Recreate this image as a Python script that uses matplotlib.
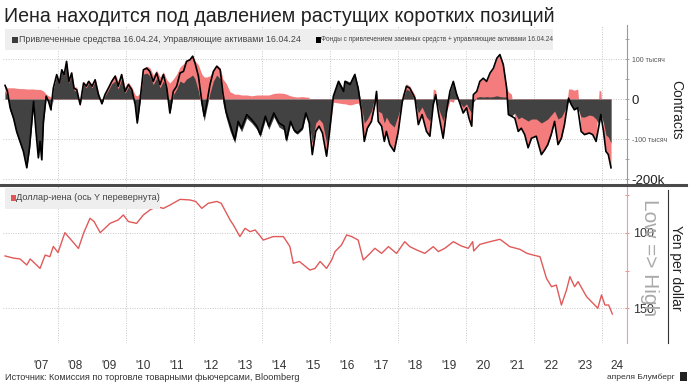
import matplotlib
matplotlib.use("Agg")
import matplotlib.pyplot as plt
from matplotlib.lines import Line2D
from matplotlib.patches import Rectangle

plt.rcParams['font.family'] = ['Liberation Sans', 'DejaVu Sans']

# CFTC positioning, thousands of contracts (decimal years)
cot_dates = [
    2006.44, 2006.51, 2006.59, 2006.69, 2006.78, 2006.88, 2006.98, 2007.08, 2007.16, 2007.23,
    2007.28, 2007.35, 2007.42, 2007.47, 2007.52, 2007.57, 2007.65, 2007.72, 2007.79, 2007.86,
    2007.96, 2008.04, 2008.11, 2008.18, 2008.25, 2008.32, 2008.40, 2008.47, 2008.55, 2008.65,
    2008.75, 2008.83, 2008.90, 2009.00, 2009.09, 2009.19, 2009.29, 2009.38, 2009.48, 2009.58,
    2009.68, 2009.77, 2009.87, 2009.97, 2010.07, 2010.17, 2010.27, 2010.33, 2010.41, 2010.51,
    2010.61, 2010.70, 2010.80, 2010.90, 2011.00, 2011.10, 2011.20, 2011.29, 2011.39, 2011.49,
    2011.59, 2011.69, 2011.78, 2011.88, 2011.96, 2012.03, 2012.13, 2012.23, 2012.30, 2012.37,
    2012.47, 2012.57, 2012.67, 2012.77, 2012.85, 2012.94, 2013.06, 2013.20, 2013.30, 2013.40,
    2013.55, 2013.70, 2013.85, 2013.95, 2014.10, 2014.20, 2014.35, 2014.50, 2014.65, 2014.72,
    2014.84, 2014.94, 2015.04, 2015.19, 2015.29, 2015.39, 2015.48, 2015.58, 2015.68, 2015.78,
    2015.90, 2016.00, 2016.10, 2016.25, 2016.40, 2016.44, 2016.59, 2016.73, 2016.83, 2016.93,
    2017.01, 2017.10, 2017.22, 2017.32, 2017.37, 2017.42, 2017.52, 2017.60, 2017.66, 2017.76,
    2017.89, 2018.01, 2018.13, 2018.25, 2018.35, 2018.50, 2018.60, 2018.71, 2018.84, 2018.94,
    2019.04, 2019.11, 2019.20, 2019.33, 2019.43, 2019.53, 2019.63, 2019.73, 2019.82, 2019.92,
    2020.02, 2020.09, 2020.17, 2020.22, 2020.32, 2020.41, 2020.51, 2020.61, 2020.71, 2020.81,
    2020.91, 2021.00, 2021.10, 2021.20, 2021.25, 2021.34, 2021.44, 2021.54, 2021.63, 2021.73,
    2021.83, 2021.93, 2022.07, 2022.22, 2022.32, 2022.41, 2022.51, 2022.61, 2022.71, 2022.81,
    2022.90, 2023.02, 2023.10, 2023.19, 2023.29, 2023.39, 2023.49, 2023.63, 2023.73, 2023.83,
    2023.92, 2023.97, 2024.05, 2024.12, 2024.19, 2024.27,
]
# black line: leveraged funds + asset managers
net_total = [
    34, 19, -22, -48, -81, -106, -131, -172, -122, -56,
    -6, -81, -147, -106, -152, -56, 7, -6, -27, 27,
    61, 40, 73, 61, 94, 44, 65, 27, 23, -14,
    40, 32, 44, 32, 48, 11, -12, 11, 27, 44,
    57, 32, 61, 19, 36, 23, -14, -60, -6, 73,
    77, 69, 44, 65, 36, 61, 27, -35, 19, 32,
    65, 69, 94, 98, 107, 90, 57, -6, -43, -14,
    36, 69, 82, 73, 15, -31, -64, -102, -56, -73,
    -39, -52, -68, -89, -43, -68, -35, -60, -68, -102,
    -56, -77, -85, -73, -35, -60, -139, -81, -68, -85,
    -143, -73, 7, 44, 19, 44, 36, 61, 27, -31,
    -106, -73, -56, -14, 19, -56, -68, -106, -81, -114,
    -131, -81, -6, 32, 27, 2, -64, -39, -81, -93,
    -14, 11, -39, -98, -31, 19, 44, 11, -10, -35,
    -22, -48, -68, 11, 19, 44, 52, 44, 65, 77,
    102, 111, 86, 27, -39, -43, -48, -81, -73, -89,
    -122, -98, -93, -139, -127, -114, -89, -56, -114, -98,
    -64, 2, -14, -27, -22, -81, -89, -85, -89, -106,
    -64, -39, -81, -131, -139, -172,
]
# dark grey stack: leveraged funds
leveraged = [
    20, 5, -30, -55, -88, -112, -135, -172, -125, -60,
    -10, -85, -150, -110, -155, -60, 2, -10, -30, 25,
    58, 38, 70, 58, 90, 40, 60, 22, 18, -14,
    36, 28, 40, 28, 44, 8, -12, 8, 22, 38,
    45, 25, 50, 15, 30, 18, -18, -62, -10, 62,
    65, 58, 36, 52, 28, 45, 20, -38, 10, 25,
    45, 40, 50, 55, 60, 50, 20, -25, -55, -25,
    15, 45, 60, 50, -10, -45, -80, -110, -65, -82,
    -48, -60, -76, -95, -52, -76, -45, -70, -78, -108,
    -62, -82, -88, -76, -40, -62, -110, -60, -50, -60,
    -110, -60, 12, 48, 25, 48, 42, 66, 30, -20,
    -60, -50, -30, 5, 22, -30, -35, -60, -45, -60,
    -70, -40, -6, 25, 20, -5, -35, -20, -45, -55,
    -10, 5, -25, -55, -20, 18, 44, 10, -8, -20,
    -12, -25, -35, -8, 4, 6, 5, 6, 5, 6,
    8, 6, 5, 5, -39, -43, -35, -50, -45, -50,
    -55, -50, -50, -60, -55, -50, -40, -30, -50, -45,
    -30, -5, -14, -27, -22, -45, -45, -40, -42, -50,
    -64, -39, -60, -90, -95, -110,
]
# pink stack: outer edge of asset-manager positions
asset_mgr_edge = [
    34, 28, 28, 28, 27, 26, 26, 25, 25, 25,
    25, 24, 24, 24, 22, 20, 12, 8, 5, -8,
    63, 42, 75, 63, 96, 47, 68, 30, 30, -18,
    44, 36, 48, 36, 52, 15, -12, 15, 32, 50,
    62, 45, 65, 30, 42, 30, 10, 8, 15, 78,
    82, 78, 60, 72, 55, 68, 48, 40, 50, 62,
    80, 88, 98, 102, 110, 95, 85, 62, 55, 55,
    58, 72, 85, 78, 50, 40, 18, 12, 12, 10,
    10, 8, 10, 10, 10, 10, 14, 15, 14, 12,
    8, 6, 5, 6, 5, 4, -139, -81, -68, -85,
    -143, -73, -8, -10, -12, -12, -15, -12, -10, -31,
    -106, -73, -56, -14, -5, -56, -68, -106, -81, -114,
    -131, -81, 12, 38, 32, 10, -64, -39, -81, -93,
    25, 22, -39, -98, -31, -5, -8, 15, -10, -35,
    -22, -48, -68, 11, 19, 44, 52, 44, 65, 77,
    102, 111, 86, 27, 18, 12, -48, -81, -73, -89,
    -122, -98, -93, -139, -127, -114, -89, -56, -114, -98,
    -64, 25, 25, 22, 25, -81, -89, -85, -89, -106,
    22, 20, -81, -131, -139, -172,
]

# USD/JPY (axis inverted)
yen_dates = [
    2006.44, 2006.68, 2006.88, 2007.08, 2007.18, 2007.47, 2007.62, 2007.76, 2007.86, 2008.00,
    2008.20, 2008.40, 2008.60, 2008.75, 2008.94, 2009.06, 2009.24, 2009.53, 2009.77, 2009.92,
    2010.07, 2010.31, 2010.51, 2010.70, 2010.90, 2011.10, 2011.30, 2011.59, 2011.88, 2012.05,
    2012.23, 2012.42, 2012.67, 2012.80, 2013.06, 2013.16, 2013.35, 2013.50, 2013.65, 2013.80,
    2014.04, 2014.33, 2014.63, 2014.82, 2014.92, 2015.10, 2015.41, 2015.56, 2015.71, 2015.90,
    2016.05, 2016.15, 2016.34, 2016.49, 2016.64, 2016.83, 2016.98, 2017.18, 2017.32, 2017.52,
    2017.72, 2017.96, 2018.20, 2018.35, 2018.55, 2018.79, 2019.04, 2019.19, 2019.38, 2019.63,
    2019.87, 2020.07, 2020.20, 2020.23, 2020.41, 2020.71, 2021.00, 2021.10, 2021.29, 2021.59,
    2021.80, 2021.98, 2022.18, 2022.37, 2022.52, 2022.66, 2022.81, 2022.96, 2023.06, 2023.20,
    2023.30, 2023.55, 2023.79, 2023.88, 2023.99, 2024.09, 2024.20, 2024.31,
]
usdjpy = [
    115.3, 116.7, 117.3, 121.3, 117.3, 123.6, 114.7, 115.8, 109.0, 113.0,
    99.8, 105.0, 110.3, 100.2, 90.2, 92.4, 99.8, 93.6, 91.3, 88.0,
    92.4, 93.6, 88.0, 84.7, 82.4, 83.6, 81.3, 77.6, 78.0, 79.0,
    83.6, 80.2, 79.0, 80.2, 91.3, 94.7, 102.4, 96.9, 99.1, 98.0,
    104.7, 102.4, 102.4, 109.0, 120.2, 119.0, 124.7, 123.6, 119.0, 123.6,
    118.0, 112.4, 108.0, 101.3, 102.4, 104.7, 118.0, 113.6, 110.2, 113.6,
    109.1, 113.6, 105.8, 109.1, 111.3, 113.6, 109.1, 112.4, 110.2, 105.8,
    108.7, 110.2, 105.8, 112.0, 107.6, 105.8, 104.2, 105.8, 109.1, 110.9,
    113.6, 114.7, 115.8, 130.2, 135.8, 134.7, 148.0, 138.0, 129.1, 135.8,
    132.4, 142.4, 148.0, 150.2, 141.3, 148.0, 148.0, 154.0,
]

year_labels = ["'07", "'08", "'09", "'10", "'11", "'12", "'13", "'14", "'15",
               "'16", "'17", "'18", "'19", "'20", "'21", "'22", "'23", "24"]
year_pos = [2007.5 + i for i in range(17)] + [2024.45]

W, H = 690, 385
fig = plt.figure(figsize=(W / 100, H / 100), dpi=100)


def box(l, t, r, b):
    return [l / W, 1 - b / H, (r - l) / W, (b - t) / H]


def fx(x):
    return x / W


def fy(y):
    return 1 - y / H


XLIM = (2006.38, 2024.74)
grid_kw = dict(color='#c8c8c8', linestyle=(0, (1, 1.5)), linewidth=0.7)

# top panel: positioning
ax1 = fig.add_axes(box(3, 25, 627, 183))
ax1.fill_between(cot_dates, 0, asset_mgr_edge, color='#f47c7c', linewidth=0)
ax1.fill_between(cot_dates, 0, leveraged, color='#424242', linewidth=0)
ax1.plot(cot_dates, net_total, color='black', linewidth=1.2)
ax1.set_xlim(*XLIM)
ax1.set_ylim(-210, 185)
for yr in range(2008, 2025, 2):
    ax1.axvline(yr, zorder=0, **grid_kw)
for v in [100, 0, -100, -200]:
    ax1.axhline(v, zorder=0, **grid_kw)
ax1.set_xticks([])
ax1.yaxis.tick_right()
ax1.set_yticks([100, 0, -100, -200])
ax1.set_yticklabels(['100 тысяч', '0', '-100 тысяч', '-200k'])
ax1.set_yticks([150, 50, -50, -150], minor=True)
ax1.tick_params(axis='y', which='both', length=3, width=0.6, color='#999999', pad=2, direction='inout')
for lab in ax1.get_yticklabels():
    if 'тысяч' in lab.get_text():
        lab.set_fontsize(5)
        lab.set_color('#555555')
    else:
        lab.set_fontsize(9.5)
        lab.set_color('#222222')
for s in ['left', 'top', 'bottom']:
    ax1.spines[s].set_visible(False)
ax1.spines['right'].set_color('#9a9a9a')

# bottom panel: dollar-yen
ax2 = fig.add_axes(box(3, 186, 627, 343))
ax2.plot(yen_dates, usdjpy, color='#e05a5a', linewidth=1.0)
ax2.set_xlim(*XLIM)
ax2.set_ylim(173.3, 68.7)
for yr in range(2008, 2025, 2):
    ax2.axvline(yr, zorder=0, **grid_kw)
for v in [100, 150]:
    ax2.axhline(v, zorder=0, **grid_kw)
ax2.yaxis.tick_right()
ax2.set_yticks([100, 150])
ax2.set_yticks([75, 125], minor=True)
ax2.tick_params(axis='y', which='both', length=3, width=0.6, color='#e08080', pad=3,
                labelsize=9, labelcolor='#333333', direction='inout')
ax2.set_xticks(year_pos)
ax2.set_xticklabels(year_labels)
ax2.tick_params(axis='x', length=0, pad=12, labelsize=8.5, labelcolor='#333333')
for s in ['left', 'top', 'bottom']:
    ax2.spines[s].set_visible(False)
ax2.spines['right'].set_color('#f0a0a0')

# separator between panels
fig.add_artist(Line2D([0, fx(686)], [fy(184.5), fy(184.5)], color='#4a4a4a', linewidth=2.2))

# title
fig.text(fx(4), fy(17), 'Иена находится под давлением растущих коротких позиций',
         fontsize=14.1, color='#222222', va='center', ha='left')

# top legend
fig.add_artist(Rectangle((fx(5), fy(50)), fx(548), 21 / H, facecolor='#eeeeee',
                         edgecolor='none', zorder=5))
fig.add_artist(Rectangle((fx(12), fy(43)), fx(6), 6 / H, facecolor='#3c3c3c', zorder=6))
fig.text(fx(19), fy(39.5), 'Привлеченные средства 16.04.24, Управляющие активами 16.04.24',
         fontsize=6.4, color='#444444', va='center', ha='left', zorder=6)
fig.add_artist(Rectangle((fx(316), fy(43)), fx(5), 6 / H, facecolor='black', zorder=6))
fig.text(fx(321), fy(39.5), 'Фонды с привлечением заемных средств + управляющие активами 16.04.24',
         fontsize=4.7, color='#444444', va='center', ha='left', zorder=6)

# bottom legend
fig.add_artist(Rectangle((fx(5), fy(209)), fx(155), 21 / H, facecolor='#eeeeee',
                         edgecolor='none', zorder=5))
fig.add_artist(Rectangle((fx(11), fy(201)), fx(5), 6 / H, facecolor='#e05555', zorder=6))
fig.text(fx(16), fy(198), 'Доллар-иена (ось Y перевернута)',
         fontsize=6.6, color='#444444', va='center', ha='left', zorder=6)

# right-hand axis titles
fig.text(fx(676), fy(110), 'Contracts', rotation=270, fontsize=10, color='#222222',
         va='center', ha='center')
fig.text(fx(676), fy(268), 'Yen per dollar', rotation=270, fontsize=10, color='#222222',
         va='center', ha='center')
fig.add_artist(Line2D([fx(668), fx(668)], [fy(190), fy(343)], color='#333333', linewidth=0.8))
fig.text(fx(649), fy(258), 'Low => High', rotation=270, fontsize=15, color='#aaaaaa',
         va='center', ha='center')

# footer
fig.text(fx(5), fy(377), 'Источник: Комиссия по торговле товарными фьючерсами, Bloomberg',
         fontsize=6.6, color='#333333', va='center', ha='left')
fig.text(fx(675), fy(377), 'апреля Блумберг', fontsize=6, color='#333333',
         va='center', ha='right')
fig.add_artist(Rectangle((fx(680), fy(381)), fx(7), 9 / H, facecolor='#222222'))

fig.savefig('out.png', dpi=100)
